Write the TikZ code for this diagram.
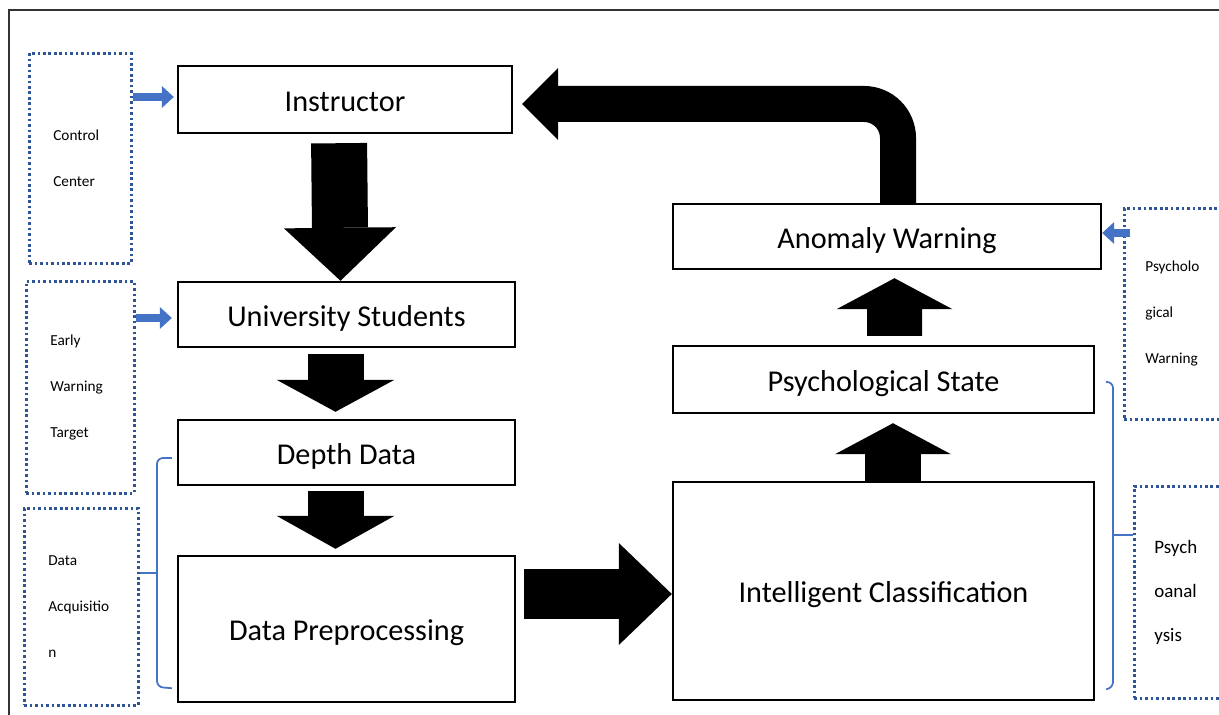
\documentclass[tikz,border=0pt]{standalone}
\usepackage{fontspec}
\setmainfont{Carlito}
\usetikzlibrary{positioning,calc,arrows.meta}
\definecolor{dotblue}{RGB}{47,85,151}
\definecolor{arrowblue}{RGB}{68,114,196}

\begin{document}
\begin{tikzpicture}[
				x=0.02cm, y=-0.02cm,
				box/.style={rectangle, draw, line width=1.4pt, align=center, inner sep=0pt, text height=14pt, text depth=0.6pt, font=\fontsize{17.2}{20}\selectfont},
				side/.style={rectangle, draw=dotblue, line width=1.5pt, dash pattern=on 1.5pt off 1.6pt, align=left, anchor=north west, inner xsep=0.48cm, font=\fontsize{8.7}{26.2}\selectfont},
				bluearrow/.style={arrowblue, line width=0.17cm, -{Triangle[width=0.44cm, length=0.24cm, line width=0pt]}},
				brace/.style={arrowblue, line width=1pt, rounded corners=0.12cm}
				]
				\useasboundingbox (0,0) rectangle (1219,715);
				\clip (0,0) rectangle (1219,715);
				\draw[line width=1.2pt, black!80] (1219,10) -| (9,715);
				
				\node[box, minimum width=6.68cm, minimum height=1.34cm] (instr) at (345,99.5) {Instructor};
				\node[box, minimum width=6.74cm, minimum height=1.3cm] (students) at (346.5,314.5) {University Students};
				\node[box, minimum width=6.74cm, minimum height=1.3cm] (depth) at (346.5,452.5) {Depth Data};
				\node[box, minimum width=6.74cm, minimum height=2.92cm] (prep) at (346.5,629) {Data Preprocessing};
				\node[box, minimum width=8.42cm, minimum height=4.36cm] (classif) at (883.5,591) {Intelligent Classification};
				\node[box, minimum width=8.42cm, minimum height=1.34cm] (state) at (883.5,379.5) {Psychological State};
				\node[box, minimum width=8.56cm, minimum height=1.3cm] (anomaly) at (887,236.5) {Anomaly Warning};
				
				\node[side, text width=1.08cm, minimum height=4.2cm] (ctrl) at (28,52) {Control\\Center};
				\node[side, text width=1.2cm, minimum height=4.24cm] (early) at (25,280) {Early\\Warning\\Target};
				\node[side, text width=1.32cm, minimum height=3.94cm] (acq) at (23,507) {Data\\Acquisitio\\n};
				\node[side, text width=1.3cm, inner xsep=0.42cm, minimum height=4.22cm] (pwarn) at (1123,207) {Psycholo\\gical\\Warning};
				\node[side, text width=1.3cm, inner xsep=0.4cm, minimum height=4.24cm, font=\fontsize{10.8}{25.2}\selectfont] (psyan) at (1133,485) {Psych\\oanal\\ysis};
				
				\draw[line width=1.12cm, shorten <=0.18cm, -{Triangle[width=2.24cm, length=1.06cm, line width=0pt]}] ([xshift=-0.12cm]instr.south) -- ([xshift=-0.12cm]students.north);
				\draw[line width=1.12cm, shorten <=0.12cm, shorten >=0.14cm, -{Triangle[width=2.36cm, length=0.64cm, line width=0pt]}] ([xshift=-0.22cm]students.south) -- ([xshift=-0.22cm]depth.north);
				\draw[line width=1.12cm, shorten <=0.1cm, shorten >=0.12cm, -{Triangle[width=2.36cm, length=0.66cm, line width=0pt]}] ([xshift=-0.22cm]depth.south) -- ([xshift=-0.22cm]prep.north);
				\draw[line width=1.02cm, shorten <=0.16cm, -{Triangle[width=2.04cm, length=1.06cm, line width=0pt]}] ($(prep.east |- classif.west)+(0,3)$) -- ($(classif.west)+(0,3)$);
				\draw[line width=1.12cm, shorten >=0.18cm, -{Triangle[width=2.32cm, length=0.62cm, line width=0pt]}] ([xshift=0.19cm]classif.north) -- ([xshift=0.19cm]state.south);
				\draw[line width=1.1cm, shorten <=0.18cm, shorten >=0.16cm, -{Triangle[width=2.32cm, length=0.62cm, line width=0pt]}] ([xshift=0.22cm]state.north) -- ([xshift=0.15cm]anomaly.south);
				\draw[line width=0.72cm, rounded corners=0.68cm, shorten >=0.18cm, -{Triangle[width=1.44cm, length=0.72cm, line width=0pt]}] ([xshift=0.22cm]anomaly.north) |- ($(instr.east)+(0,4.5)$);
				
				\draw[bluearrow, shorten >=0.06cm] (ctrl.east |- 0,97) -- (instr.west |- 0,97);
				\draw[bluearrow, shorten >=0.1cm] (early.east |- 0,318) -- (students.west |- 0,318);
				\draw[bluearrow, shorten <=-0.14cm] (pwarn.west |- 0,233) -- (anomaly.east |- 0,233);
				
				\draw[brace] ([xshift=-0.1cm,yshift=-0.11cm]depth.west) -| (157,687) -- ([xshift=-0.1cm,yshift=0.3cm]prep.south west);
				\draw[brace] (157,573) -- (acq.east |- 0,573);
				\draw[brace] ([xshift=0.22cm,yshift=-0.05cm]state.east) -| (1113,688) -- ([xshift=0.22cm,yshift=0.24cm]classif.south east);
				\draw[brace] (1113,535) -- (psyan.west |- 0,535);
			\end{tikzpicture}
\end{document}
